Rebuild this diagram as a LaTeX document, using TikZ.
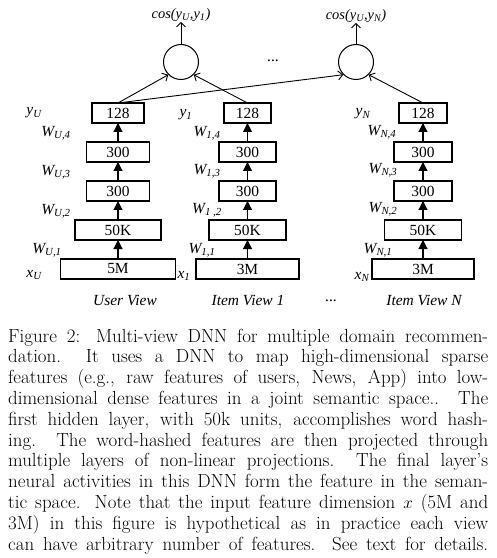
\documentclass[tikz,border=0pt]{standalone}
\usepackage{fontspec}
\usepackage{tikz}
\usetikzlibrary{calc, arrows.meta, positioning}

\newfontfamily\tms{Liberation Serif}
\newcommand{\idx}[2]{#1\textsubscript{#2}}

\begin{document}
\begin{tikzpicture}[x=1bp, y=-1bp,
	layer/.style = {draw, line width=1.1bp, minimum height=20bp, inner sep=0pt, outer sep=0pt, font=\tms\fontsize{15.5}{17}\selectfont},
	tag/.style = {inner sep=0pt, font=\tms\itshape\fontsize{15.5}{17}\selectfont},
	feed/.style = {line width=1.1bp, -{Triangle[width=9bp, length=9bp]}},
	score/.style = {line width=0.9bp, -{Straight Barb[width=9bp, length=4.5bp]}},
	capline/.style = {inner sep=0pt, anchor=base west, font=\fontsize{19}{21}\selectfont}]
	\def\gap{19bp};

	\useasboundingbox (0,0) rectangle (497,558);

	\foreach \col/\x/\wout/\wmid/\whash/\wraw/\inp in {U/118/52bp/63bp/86bp/115bp/5M, 1/247.5/47bp/57bp/77bp/103bp/3M, N/423/48bp/58bp/77bp/102bp/3M} {
		\node [layer, minimum width=\wraw] (in-\col) at (\x,269) {\inp};
		\node [layer, minimum width=\whash, above=\gap of in-\col] (h1-\col) {50K};
		\node [layer, minimum width=\wmid, above=\gap of h1-\col] (h2-\col) {300};
		\node [layer, minimum width=\wmid, above=\gap of h2-\col] (h3-\col) {300};
		\node [layer, minimum width=\wout, above=\gap of h3-\col] (out-\col) {128};

		\draw [feed] (in-\col) -- (h1-\col);
		\draw [feed] (h1-\col) -- (h2-\col);
		\draw [feed] (h2-\col) -- (h3-\col);
		\draw [feed] (h3-\col) -- (out-\col);
	}

	\node [draw, circle, line width=1bp, minimum size=35bp] (sim-1) at (181,62) {};
	\node [draw, circle, line width=1bp, minimum size=35bp] (sim-N) at (356,62) {};

	\node [tag, font=\tms\itshape\fontsize{14.5}{16}\selectfont] (cos-1) at (181,15) {cos(\idx{y}{U},\idx{y}{1})};
	\node [tag, font=\tms\itshape\fontsize{14.5}{16}\selectfont] (cos-N) at (356,16) {cos(\idx{y}{U},\idx{y}{N})};
	\node [tag, font=\tms\fontsize{15.5}{17}\selectfont] (dots-top) at (273,61) {...};

	\begin{scope}[score]
		\draw (sim-1) -- (cos-1);
		\draw (sim-N) -- (cos-N);
		\draw (out-U.north) -- (sim-1.south west);
		\draw (out-U.north) -- (sim-N.south west);
		\draw (out-1.north) -- (sim-1.south east);
		\draw (out-N.north) -- (sim-N.south east);
	\end{scope}

	\node [tag] (y-U) at (34,113) {\idx{y}{U}};
	\node [tag] (w4-U) at (56,133) {\idx{W}{U,4}};
	\node [tag] (w3-U) at (56,172) {\idx{W}{U,3}};
	\node [tag] (w2-U) at (56,211) {\idx{W}{U,2}};
	\node [tag] (w1-U) at (47,250) {\idx{W}{U,1}};
	\node [tag] (x-U) at (34,275) {\idx{x}{U}};

	\node [tag] (y-1) at (186,115) {\idx{y}{1}};
	\node [tag] (w4-1) at (207,133) {\idx{W}{1,4}};
	\node [tag] (w3-1) at (207,171) {\idx{W}{1,3}};
	\node [tag] (w2-1) at (207,210) {\idx{W}{1 ,2}};
	\node [tag] (w1-1) at (202,250) {\idx{W}{1,1}};
	\node [tag] (x-1) at (184,276) {\idx{x}{1}};

	\node [tag] (y-N) at (363,114) {\idx{y}{N}};
	\node [tag] (w4-N) at (382,132) {\idx{W}{N,4}};
	\node [tag] (w3-N) at (383,170) {\idx{W}{N,3}};
	\node [tag] (w2-N) at (383,209) {\idx{W}{N,2}};
	\node [tag] (w1-N) at (378,250) {\idx{W}{N,1}};
	\node [tag] (x-N) at (362,277) {\idx{x}{N}};

	\node [tag] (view-U) at (125,301) {User View};
	\node [tag] (view-1) at (248,301) {Item View 1};
	\node [tag, font=\tms\fontsize{15.5}{17}\selectfont] (dots-bot) at (331,301) {...};
	\node [tag] (view-N) at (424,301) {Item View N};

	\foreach \line [count=\i] in {
		{Figure 2: Multi-view DNN for multiple domain recommen-},
		{dation.\ \ It uses a DNN to map high-dimensional sparse},
		{features (e.g., raw features of users, News, App) into low-},
		{dimensional dense features in a joint semantic space..\ \ The},
		{first hidden layer, with 50k units, accomplishes word hash-},
		{ing.\ \ The word-hashed features are then projected through},
		{multiple layers of non-linear projections.\ \ The final layer's},
		{neural activities in this DNN form the feature in the seman-},
		{tic space. Note that the input feature dimension $x$ (5M and},
		{3M) in this figure is hypothetical as in practice each view},
		{can have arbitrary number of features. See text for details.}} {
		\node [capline] (cap-\i) at (8, {342+20.8*(\i-1)}) {\makebox[480bp][s]{\line}};
	}
\end{tikzpicture}
\end{document}
